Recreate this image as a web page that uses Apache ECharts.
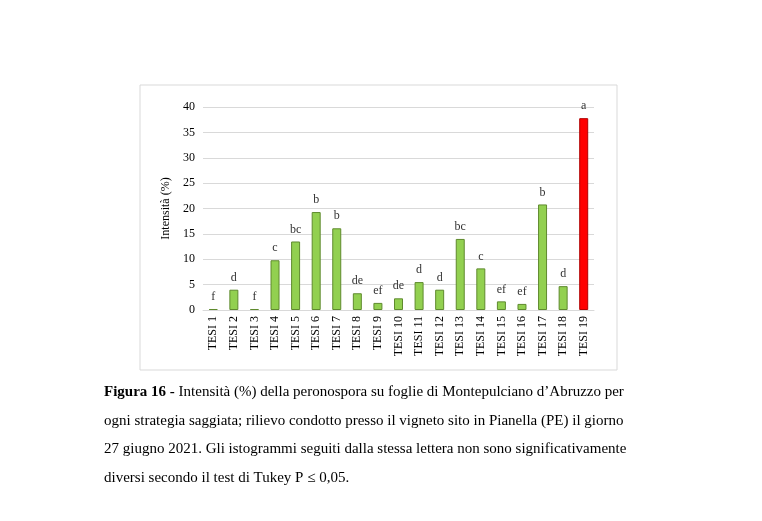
<!DOCTYPE html>
<html>
<head>
<meta charset="UTF-8">
<script src="https://cdn.jsdelivr.net/npm/echarts@6/dist/echarts.min.js"></script>
<style>html,body{margin:0;background:#fff}#c{width:762px;height:521px}</style>
</head>
<body>
<div id="c"></div>
<script>
var categories = ['TESI 1','TESI 2','TESI 3','TESI 4','TESI 5','TESI 6','TESI 7','TESI 8','TESI 9','TESI 10',
                  'TESI 11','TESI 12','TESI 13','TESI 14','TESI 15','TESI 16','TESI 17','TESI 18','TESI 19'];
var values = [0.2, 4.0, 0.2, 9.8, 13.5, 19.3, 16.1, 3.3, 1.4, 2.3, 5.5, 4.0, 14.0, 8.2, 1.7, 1.2, 20.8, 4.7, 37.8];
var letters = ['f','d','f','c','bc','b','b','de','ef','de','d','d','bc','c','ef','ef','b','d','a'];
var yTicks = [0, 5, 10, 15, 20, 25, 30, 35, 40];

var serif = '"Liberation Serif", "DejaVu Serif", serif';
var chart = echarts.init(document.getElementById('c'));
chart.setOption({
    animation: false,
    textStyle: {fontFamily: serif},
    grid: {left: 203, right: 168, top: 107, bottom: 211},
    xAxis: {
        type: 'category', data: categories,
        axisLine: {lineStyle: {color: '#d9d9d9'}}, axisTick: {show: false},
        axisLabel: {rotate: 90, color: '#000', fontSize: 12, fontFamily: serif, margin: 6}
    },
    yAxis: {
        type: 'value', min: 0, max: 40, interval: 5,
        name: 'Intensità (%)', nameLocation: 'middle', nameGap: 28,
        nameTextStyle: {color: '#000', fontSize: 12, fontFamily: serif},
        axisLine: {show: false}, axisTick: {show: false},
        axisLabel: {color: '#000', fontSize: 12, fontFamily: serif,
            formatter: function (v) { return yTicks.indexOf(v) >= 0 ? v : ''; }},
        splitLine: {lineStyle: {color: '#d9d9d9'}}
    },
    series: [{
        type: 'bar', barWidth: 9,
        data: values.map(function (v, i) {
            var red = i === values.length - 1;
            return {value: v, itemStyle: {
                color: red ? '#ff0000' : '#92d050',
                borderColor: red ? '#b00000' : '#5f8a2e', borderWidth: 1}};
        }),
        label: {show: true, position: 'top', distance: 6, color: '#333', fontSize: 12, fontFamily: serif,
            formatter: function (p) { return letters[p.dataIndex]; }}
    }],
    graphic: [
        {type: 'rect', shape: {x: 140, y: 85, width: 477, height: 285},
         style: {fill: 'none', stroke: '#d9d9d9', lineWidth: 1}, silent: true},
        {type: 'text', left: 104, top: 378, style: {
            text: '{b|Figura 16 -} Intensità (%) della peronospora su foglie di Montepulciano d’Abruzzo per\n' +
                  'ogni strategia saggiata; rilievo condotto presso il vigneto sito in Pianella (PE) il giorno\n' +
                  '27 giugno 2021. Gli istogrammi seguiti dalla stessa lettera non sono significativamente\n' +
                  'diversi secondo il test di Tukey P ≤ 0,05.',
            font: '15px ' + serif, fill: '#000', lineHeight: 28.5,
            rich: {b: {fontWeight: 'bold', fontSize: 15, fontFamily: serif, fill: '#000'}}
        }}
    ]
});
</script>
</body>
</html>
